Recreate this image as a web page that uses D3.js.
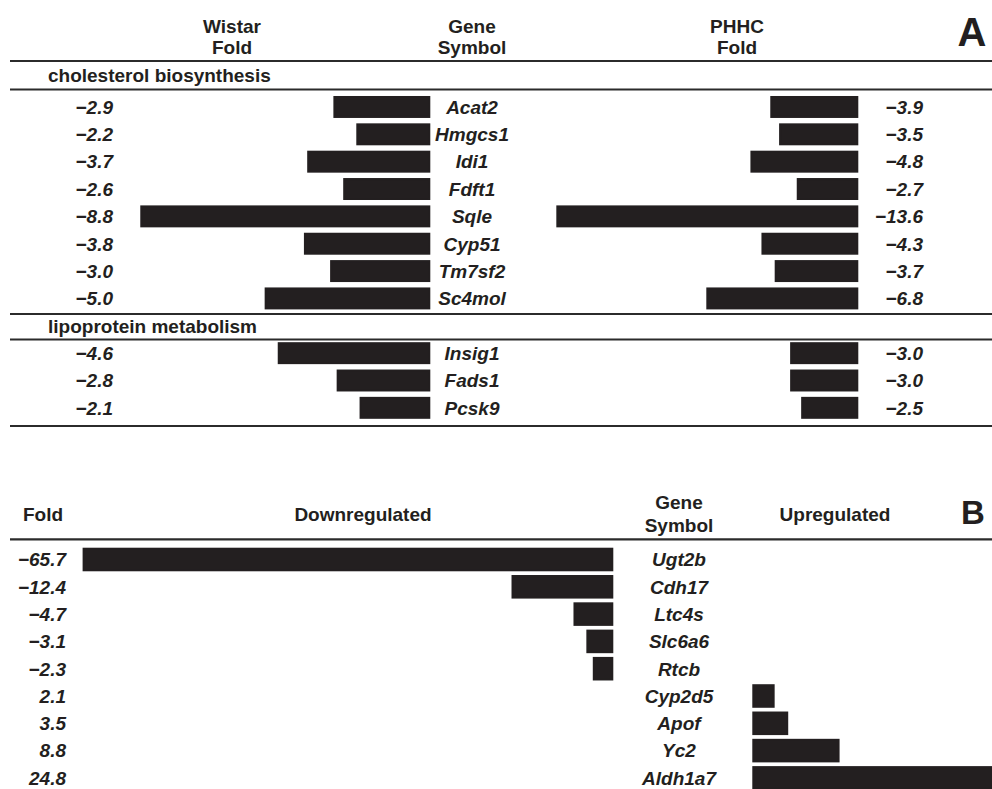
<!DOCTYPE html>
<html>
<head>
<meta charset="utf-8">
<script src="https://cdn.jsdelivr.net/npm/d3@7"></script>
<style>
  body{margin:0;background:#fff;overflow:hidden}
  text{font-family:"Liberation Sans",Arial,Helvetica,sans-serif;font-weight:bold;fill:#231f20}
</style>
</head>
<body>
<svg id="chart" width="992" height="789"></svg>
<script>
// panel A : cholesterol / lipoprotein genes, Wistar vs PHHC fold
const sectionsA = ['cholesterol biosynthesis', 'lipoprotein metabolism']
const genesChol = ['Acat2', 'Hmgcs1', 'Idi1', 'Fdft1', 'Sqle', 'Cyp51', 'Tm7sf2', 'Sc4mol']
const wistarChol = [-2.9, -2.2, -3.7, -2.6, -8.8, -3.8, -3.0, -5.0]
const phhcChol = [-3.9, -3.5, -4.8, -2.7, -13.6, -4.3, -3.7, -6.8]
const genesLipo = ['Insig1', 'Fads1', 'Pcsk9']
const wistarLipo = [-4.6, -2.8, -2.1]
const phhcLipo = [-3.0, -3.0, -2.5]

// panel B : down / up regulated genes
const genesB = ['Ugt2b', 'Cdh17', 'Ltc4s', 'Slc6a6', 'Rtcb', 'Cyp2d5', 'Apof', 'Yc2', 'Aldh1a7']
const foldB = [-65.7, -12.4, -4.7, -3.1, -2.3, 2.1, 3.5, 8.8, 24.8]

const fmt = d3.format('.1f')
const barColor = '#231f20'
const fs = 19
const svg = d3.select('#chart')

function hline(y){
  svg.append('line')
    .attr('x1', 10).attr('x2', 992)
    .attr('y1', y).attr('y2', y)
    .attr('stroke', '#2b2b2b').attr('stroke-width', 2.2)
}
function label(x, y, txt, size, anchor, italic){
  svg.append('text')
    .attr('x', x).attr('y', y)
    .attr('font-size', size)
    .attr('text-anchor', anchor || 'middle')
    .attr('font-style', italic ? 'italic' : 'normal')
    .text(txt)
}

// horizontal scales (zero at the inner edge of every bar column)
const xWistar = d3.scaleLinear().domain([0, -10]).range([429.3, 102])
const xPhhc = d3.scaleLinear().domain([0, -14]).range([857.3, 548.5])
const xDown = d3.scaleLinear().domain([0, -70]).range([612.3, 49])
const xUp = d3.scaleLinear().domain([0, 30]).range([753.3, 1044])

const geneX = 472

function drawRows(genes, wistar, phhc, y){
  const rows = genes.map((g, i) => ({gene: g, w: wistar[i], p: phhc[i]}))
  const g = svg.append('g')
  g.selectAll('.wbar').data(rows).join('rect')
    .attr('x', d => xWistar(d.w))
    .attr('width', d => xWistar(0) - xWistar(d.w))
    .attr('y', d => y(d.gene)).attr('height', y.bandwidth())
    .attr('fill', barColor).attr('stroke', barColor).attr('stroke-width', 2)
  g.selectAll('.pbar').data(rows).join('rect')
    .attr('x', d => xPhhc(d.p))
    .attr('width', d => xPhhc(0) - xPhhc(d.p))
    .attr('y', d => y(d.gene)).attr('height', y.bandwidth())
    .attr('fill', barColor).attr('stroke', barColor).attr('stroke-width', 2)
  const cy = d => y(d.gene) + y.bandwidth() / 2 + 6.8
  g.selectAll('.wval').data(rows).join('text')
    .attr('x', 113).attr('y', cy).attr('text-anchor', 'end')
    .attr('font-size', fs).attr('font-style', 'italic')
    .text(d => fmt(d.w))
  g.selectAll('.pval').data(rows).join('text')
    .attr('x', 923).attr('y', cy).attr('text-anchor', 'end')
    .attr('font-size', fs).attr('font-style', 'italic')
    .text(d => fmt(d.p))
  g.selectAll('.gene').data(rows).join('text')
    .attr('x', geneX).attr('y', cy).attr('text-anchor', 'middle')
    .attr('font-size', fs).attr('font-style', 'italic')
    .text(d => d.gene)
}

// ---- panel A
label(232, 33, 'Wistar', fs)
label(232, 54, 'Fold', fs)
label(geneX, 33, 'Gene', fs)
label(geneX, 54, 'Symbol', fs)
label(737, 33, 'PHHC', fs)
label(737, 54, 'Fold', fs)
label(972, 46, 'A', 40)
hline(61)
label(48, 82, sectionsA[0], fs, 'start')
hline(89.5)
const yChol = d3.scaleBand().domain(genesChol).range([93.3, 312.1]).paddingInner(0.27).paddingOuter(0.135)
drawRows(genesChol, wistarChol, phhcChol, yChol)
hline(314)
label(48, 333, sectionsA[1], fs, 'start')
hline(339.5)
const yLipo = d3.scaleBand().domain(genesLipo).range([339.5, 421.5]).paddingInner(0.27).paddingOuter(0.135)
drawRows(genesLipo, wistarLipo, phhcLipo, yLipo)
hline(426)

// ---- panel B
label(43, 521, 'Fold', fs)
label(363, 521, 'Downregulated', fs)
label(679, 509, 'Gene', fs)
label(679, 532, 'Symbol', fs)
label(835, 521, 'Upregulated', fs)
label(973, 524, 'B', 33)
hline(539.3)

const rowsB = genesB.map((g, i) => ({gene: g, v: foldB[i]}))
const yB = d3.scaleBand().domain(genesB).range([545.85, 791.55]).paddingInner(0.21).paddingOuter(0.105)
const gB = svg.append('g')
gB.selectAll('rect').data(rowsB).join('rect')
  .attr('x', d => d.v < 0 ? xDown(d.v) : xUp(0))
  .attr('width', d => d.v < 0 ? xDown(0) - xDown(d.v) : xUp(d.v) - xUp(0))
  .attr('y', d => yB(d.gene)).attr('height', yB.bandwidth())
  .attr('fill', barColor).attr('stroke', barColor).attr('stroke-width', 2)
const cyB = d => yB(d.gene) + yB.bandwidth() / 2 + 6.8
gB.selectAll('.val').data(rowsB).join('text')
  .attr('x', 66).attr('y', cyB).attr('text-anchor', 'end')
  .attr('font-size', fs).attr('font-style', 'italic')
  .text(d => fmt(d.v))
gB.selectAll('.gene').data(rowsB).join('text')
  .attr('x', 679).attr('y', cyB).attr('text-anchor', 'middle')
  .attr('font-size', fs).attr('font-style', 'italic')
  .text(d => d.gene)
</script>
</body>
</html>
